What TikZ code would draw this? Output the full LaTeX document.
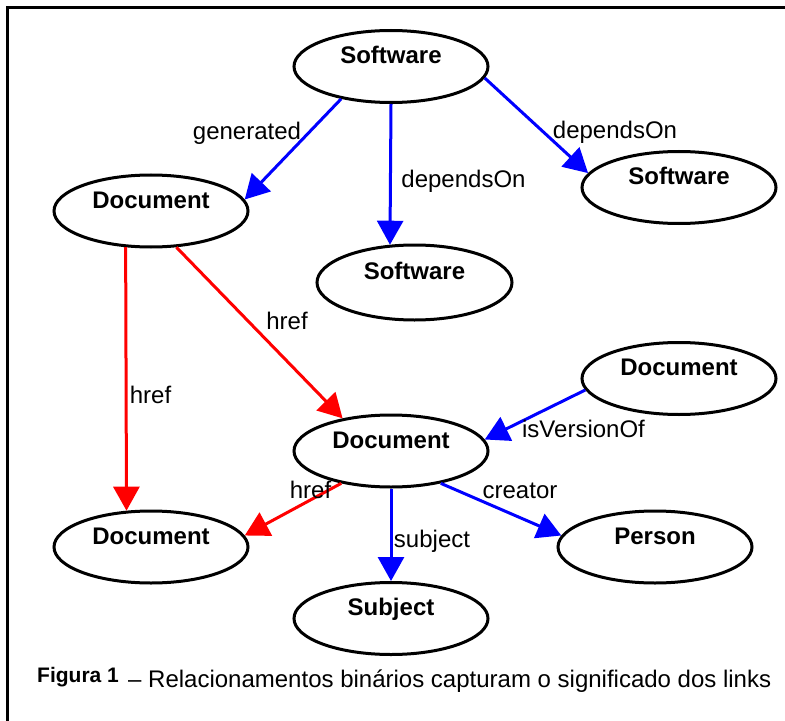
\documentclass[tikz,border=0pt]{standalone}
\usepackage{fontspec}
\setmainfont{Liberation Sans}
\usetikzlibrary{shapes.geometric,arrows.meta}
\newcommand{\ntext}[1]{\raisebox{3bp}[0pt][0pt]{#1}}
\begin{document}
\begin{tikzpicture}[x=1bp,y=-1bp,
  ell/.style={ellipse, draw, line width=3bp, minimum width=194bp, minimum height=72bp,
    inner sep=0pt, font=\fontsize{24bp}{28bp}\selectfont\bfseries},
  lbl/.style={inner sep=0pt, anchor=base, font=\fontsize{24bp}{28bp}\selectfont},
  link/.style={line width=3bp, -{Triangle[length=24bp,width=26bp]}},
  blink/.style={link, draw=blue, fill=blue},
  rlink/.style={link, draw=red, fill=red}]
\useasboundingbox (0,0) rectangle (785,721);
\draw[line width=2.5bp] (7.5,721) -- (7.5,7.5) -- (785,7.5);

% nodes
\node[ell] (S1) at (391,66.5) {\ntext{Software}};
\node[ell] (D1) at (151,211) {\ntext{Document}};
\node[ell, minimum width=195bp, minimum height=75bp] (S2) at (414.5,282.5) {\ntext{Software}};
\node[ell] (S3) at (679,187.5) {\ntext{Software}};
\node[ell] (D2) at (679,378.5) {\ntext{Document}};
\node[ell] (D3) at (391,451) {\ntext{Document}};
\node[ell] (D4) at (151,547) {\ntext{Document}};
\node[ell] (P) at (655,547) {\ntext{Person}};
\node[ell] (Sub) at (391,618.5) {\ntext{Subject}};

% connectors
\draw[blink] (S1.-147) -- (D1.7.5);
\draw[blink] (S1.south) -- (S2.123.4);
\draw[blink] (S1.-7.7) -- (S3.171.5);
\draw[rlink] (D1.235.5) -- (D4.124.5);
\draw[rlink] (D1.-55.5) -- (D3.146.9);
\draw[blink] (D2.187.5) -- (D3.7.2);
\draw[rlink] (D3.213) -- (D4.7);
\draw[blink] (D3.south) -- (Sub.north);
\draw[blink] (D3.-33) -- (P.173);

% labels
\node[lbl] (l1) at (247,140) {generated};
\node[lbl] (l2) at (463.5,187) {dependsOn};
\node[lbl] (l3) at (615,139) {dependsOn};
\node[lbl] (l4) at (150.5,403) {href};
\node[lbl] (l5) at (287,329) {href};
\node[lbl] (l6) at (583.5,437) {isVersionOf};
\node[lbl] (l7) at (310.5,498) {href};
\node[lbl] (l8) at (432,547) {subject};
\node[lbl] (l9) at (520,498) {creator};

% caption
\node[anchor=base west, inner sep=0pt, font=\fontsize{21bp}{24bp}\selectfont\bfseries] (figlbl) at (37,682) {Figura 1};
\node[anchor=base west, inner sep=0pt, font=\fontsize{24bp}{28bp}\selectfont] (figtxt) at (128,687) {– Relacionamentos binários capturam o significado dos links};
\end{tikzpicture}
\end{document}
